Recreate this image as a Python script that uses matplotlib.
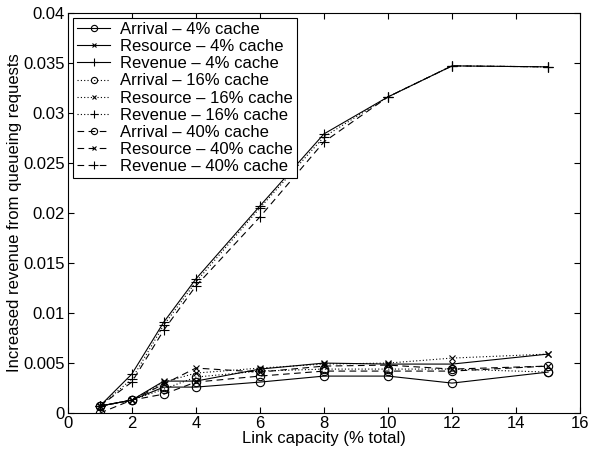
import matplotlib
matplotlib.use('Agg')
import matplotlib.pyplot as plt

plt.rcParams['font.family'] = ['Liberation Sans', 'DejaVu Sans']

capacity = [1, 2, 3, 4, 6, 8, 10, 12, 15]

arrival_4 = [0.0007, 0.0013, 0.0026, 0.0026, 0.0031, 0.0037, 0.0037, 0.0030, 0.0041]
resource_4 = [0.0007, 0.0013, 0.0032, 0.0032, 0.0044, 0.0050, 0.0049, 0.0049, 0.0059]
revenue_4 = [0.0007, 0.0039, 0.0091, 0.0134, 0.0207, 0.0279, 0.0316, 0.0347, 0.0346]

arrival_16 = [0.0007, 0.0013, 0.0024, 0.0036, 0.0042, 0.0044, 0.0044, 0.0044, 0.0041]
resource_16 = [0.0007, 0.0013, 0.0031, 0.0040, 0.0045, 0.0049, 0.0050, 0.0055, 0.0059]
revenue_16 = [0.0007, 0.0034, 0.0088, 0.0131, 0.0205, 0.0276, 0.0316, 0.0347, 0.0346]

arrival_40 = [0.0000, 0.0013, 0.0019, 0.0031, 0.0037, 0.0042, 0.0042, 0.0042, 0.0047]
resource_40 = [0.0007, 0.0013, 0.0029, 0.0045, 0.0041, 0.0047, 0.0048, 0.0044, 0.0047]
revenue_40 = [0.0007, 0.0031, 0.0083, 0.0127, 0.0196, 0.0271, 0.0316, 0.0347, 0.0346]

series = [
    ('Arrival \u2013 4% cache', arrival_4, '-', 'o'),
    ('Resource \u2013 4% cache', resource_4, '-', 'x'),
    ('Revenue \u2013 4% cache', revenue_4, '-', '+'),
    ('Arrival \u2013 16% cache', arrival_16, (0, (1, 2)), 'o'),
    ('Resource \u2013 16% cache', resource_16, (0, (1, 2)), 'x'),
    ('Revenue \u2013 16% cache', revenue_16, (0, (1, 2)), '+'),
    ('Arrival \u2013 40% cache', arrival_40, (0, (6, 4)), 'o'),
    ('Resource \u2013 40% cache', resource_40, (0, (6, 4)), 'x'),
    ('Revenue \u2013 40% cache', revenue_40, (0, (6, 4)), '+'),
]

fig = plt.figure(figsize=(5.89, 4.58), dpi=100)
ax = fig.add_axes([0.115, 0.098, 0.87, 0.874])

for label, vals, ls, mk in series:
    ms = {'o': 6, 'x': 4.5, '+': 7}[mk]
    ax.plot(capacity, vals, color='black', linestyle=ls, marker=mk,
            markersize=ms, markerfacecolor='none', markeredgewidth=0.8,
            linewidth=0.8, label=label)

ax.set_xlim(0, 16)
ax.set_ylim(0, 0.04)
ax.set_xticks(range(0, 17, 2))
ax.set_yticks([0, 0.005, 0.01, 0.015, 0.02, 0.025, 0.03, 0.035, 0.04])
ax.set_yticklabels(['0', '0.005', '0.01', '0.015', '0.02', '0.025', '0.03', '0.035', '0.04'])
ax.tick_params(direction='in', top=True, right=True, labelsize=12, length=4, pad=2)
ax.set_xlabel('Link capacity (% total)', fontsize=12, labelpad=0)
ax.set_ylabel('Increased revenue from queueing requests', fontsize=12, labelpad=1)

leg = ax.legend(loc='upper left', fontsize=12, handlelength=2.0, labelspacing=0.13,
                borderpad=0.25, handletextpad=0.6, borderaxespad=0.3,
                numpoints=1, markerscale=0.75,
                fancybox=False, framealpha=1, edgecolor='black')
leg.get_frame().set_linewidth(0.8)

fig.savefig('out.png', dpi=100)
